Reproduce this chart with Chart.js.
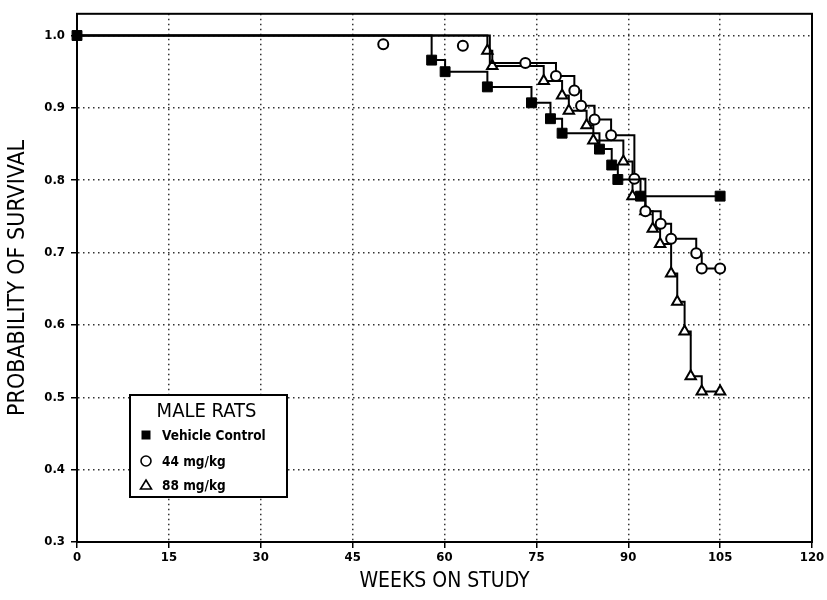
<!DOCTYPE html>
<html>
<head>
<meta charset="utf-8">
<title>Probability of survival - male rats</title>
<script src="https://cdn.jsdelivr.net/npm/chart.js@4.4.0/dist/chart.umd.min.js"></script>
<style>
    html, body { margin: 0; padding: 0; background: #fff; }
    canvas { display: block; }
</style>
</head>
<body>
<canvas id="survivalChart" width="827" height="600"></canvas>
<script>
// Tick labels of both axes
const xTicks = [0, 15, 30, 45, 60, 75, 90, 105, 120];
const yTicks = [0.3, 0.4, 0.5, 0.6, 0.7, 0.8, 0.9, 1.0];

const legendTitle = 'MALE RATS';
const groupLabels = ['Vehicle Control', '44 mg/kg', '88 mg/kg'];

// Kaplan-Meier steps (week, survival)
const weeksControl = [0, 57.9, 60.1, 67.0, 74.2, 77.3, 79.2, 85.3, 87.3, 88.3, 92.0, 105.0];
const survControl  = [1.0, 0.966, 0.950, 0.929, 0.907, 0.885, 0.865, 0.843, 0.821, 0.801, 0.778, 0.778];

const weeks44 = [0, 67.4, 73.2, 78.2, 81.2, 82.3, 84.5, 87.2, 91.0, 92.8, 95.3, 97.0, 101.1, 102.0, 105.0];
const surv44  = [1.0, 0.962, 0.962, 0.944, 0.924, 0.903, 0.884, 0.862, 0.802, 0.757, 0.740, 0.719, 0.699, 0.678, 0.678];

const weeks88 = [0, 67.0, 67.8, 76.2, 79.2, 80.3, 83.2, 84.3, 89.2, 90.7, 92.8, 94.0, 95.2, 97.0, 98.0, 99.2, 100.2, 102.0, 105.0];
const surv88  = [1.0, 0.979, 0.958, 0.937, 0.917, 0.896, 0.876, 0.855, 0.826, 0.778, 0.757, 0.733, 0.712, 0.671, 0.632, 0.591, 0.529, 0.508, 0.508];

// Two stray 44 mg/kg marks just under the 1.0 line
const weeksEarly44 = [50.0, 63.0];
const survEarly44  = [0.988, 0.986];

const fontNarrow = "'Liberation Sans Narrow', 'DejaVu Sans Condensed', 'Liberation Sans', sans-serif";

function toPoints(weeks, surv) {
    return weeks.map((w, i) => ({ x: w, y: surv[i] }));
}

// Frame round the plot area (top and right side)
const frame = {
    id: 'frame',
    afterDatasetsDraw(chart) {
        const { ctx, chartArea: a } = chart;
        ctx.save();
        ctx.strokeStyle = '#000';
        ctx.lineWidth = 2;
        ctx.strokeRect(a.left, a.top, a.right - a.left, a.bottom - a.top);
        ctx.restore();
    }
};

// Boxed legend inside the plot
const legendBox = {
    id: 'legendBox',
    afterDraw(chart) {
        const { ctx } = chart;
        const box = { x: 130, y: 395, w: 157, h: 102 };
        ctx.save();
        ctx.fillStyle = '#fff';
        ctx.fillRect(box.x, box.y, box.w, box.h);
        ctx.strokeStyle = '#000';
        ctx.lineWidth = 2;
        ctx.strokeRect(box.x, box.y, box.w, box.h);

        ctx.fillStyle = '#000';
        ctx.textBaseline = 'middle';
        ctx.textAlign = 'center';
        ctx.font = '20px ' + fontNarrow;
        ctx.fillText(legendTitle, box.x + box.w / 2 - 2, box.y + 17);

        ctx.textAlign = 'left';
        ctx.font = 'bold 13.5px ' + fontNarrow;
        const rows = [box.y + 40, box.y + 66, box.y + 90];
        const mx = box.x + 16;
        groupLabels.forEach((label, i) => {
            const my = rows[i];
            ctx.lineWidth = 1.6;
            ctx.beginPath();
            if (i === 0) {
                ctx.rect(mx - 4.5, my - 4.5, 9, 9);
                ctx.fill();
            } else if (i === 1) {
                ctx.arc(mx, my, 5, 0, Math.PI * 2);
                ctx.stroke();
            } else {
                ctx.moveTo(mx, my - 5);
                ctx.lineTo(mx + 5.5, my + 4);
                ctx.lineTo(mx - 5.5, my + 4);
                ctx.closePath();
                ctx.stroke();
            }
            ctx.fillText(label, box.x + 32, my + 1);
        });
        ctx.restore();
    }
};

const ctx = document.getElementById('survivalChart').getContext('2d');
const survivalChart = new Chart(ctx, {
    type: 'line',
    data: {
        datasets: [
            {
                label: groupLabels[0],
                data: toPoints(weeksControl, survControl),
                stepped: 'before',
                borderColor: '#000',
                borderWidth: 2,
                pointStyle: 'rect',
                pointRadius: 7,
                pointBackgroundColor: '#000',
                pointBorderColor: '#000',
                pointBorderWidth: 1,
                clip: false
            },
            {
                label: groupLabels[1],
                data: toPoints(weeks44, surv44),
                stepped: 'before',
                borderColor: '#000',
                borderWidth: 2,
                pointStyle: 'circle',
                // first two steps are hidden under the other curves
                pointRadius: c => c.dataIndex < 2 ? 0 : 5,
                pointBackgroundColor: '#fff',
                pointBorderColor: '#000',
                pointBorderWidth: 2,
                clip: false
            },
            {
                label: groupLabels[2],
                data: toPoints(weeks88, surv88),
                stepped: 'before',
                borderColor: '#000',
                borderWidth: 2,
                pointStyle: 'triangle',
                pointRadius: c => c.dataIndex === 0 ? 0 : 6,
                pointBackgroundColor: '#fff',
                pointBorderColor: '#000',
                pointBorderWidth: 2,
                clip: false
            },
            {
                label: groupLabels[1] + ' (early)',
                data: toPoints(weeksEarly44, survEarly44),
                showLine: false,
                pointStyle: 'circle',
                pointRadius: 5,
                pointBackgroundColor: '#fff',
                pointBorderColor: '#000',
                pointBorderWidth: 2,
                clip: false
            }
        ]
    },
    options: {
        responsive: false,
        animation: false,
        layout: { padding: { top: 10, right: 15, left: 0, bottom: 0 } },
        plugins: {
            legend: { display: false },
            tooltip: { enabled: false }
        },
        scales: {
            x: {
                type: 'linear',
                min: 0,
                max: 120,
                afterBuildTicks: s => { s.ticks = xTicks.map(v => ({ value: v })); },
                afterFit: s => { s.height = 58; },
                ticks: {
                    color: '#000',
                    padding: 2,
                    maxRotation: 0,
                    font: { family: fontNarrow, size: 13, weight: 'bold' },
                    callback: v => String(v)
                },
                grid: {
                    color: '#333',
                    lineWidth: 1.5,
                    tickLength: 6,
                    tickColor: '#000',
                    tickWidth: 1.5,
                    tickBorderDash: []
                },
                border: { display: true, color: '#000', width: 2, dash: [1.5, 3.5] },
                title: {
                    display: true,
                    text: 'WEEKS ON STUDY',
                    color: '#000',
                    font: { family: fontNarrow, size: 21 },
                    padding: { top: 0, bottom: 6 }
                }
            },
            y: {
                type: 'linear',
                min: 0.3,
                max: 1.03,
                afterBuildTicks: s => { s.ticks = yTicks.map(v => ({ value: v })); },
                afterFit: s => { s.width = 77; },
                ticks: {
                    color: '#000',
                    padding: 6,
                    font: { family: fontNarrow, size: 13, weight: 'bold' },
                    callback: v => Number(v).toFixed(1)
                },
                grid: {
                    color: '#333',
                    lineWidth: 1.5,
                    tickLength: 6,
                    tickColor: '#000',
                    tickWidth: 1.5,
                    tickBorderDash: []
                },
                border: { display: true, color: '#000', width: 2, dash: [1.5, 3.5] },
                title: {
                    display: true,
                    text: 'PROBABILITY OF SURVIVAL',
                    color: '#000',
                    font: { family: fontNarrow, size: 23 },
                    padding: { top: 4, bottom: 0 }
                }
            }
        }
    },
    plugins: [frame, legendBox]
});
</script>
</body>
</html>
